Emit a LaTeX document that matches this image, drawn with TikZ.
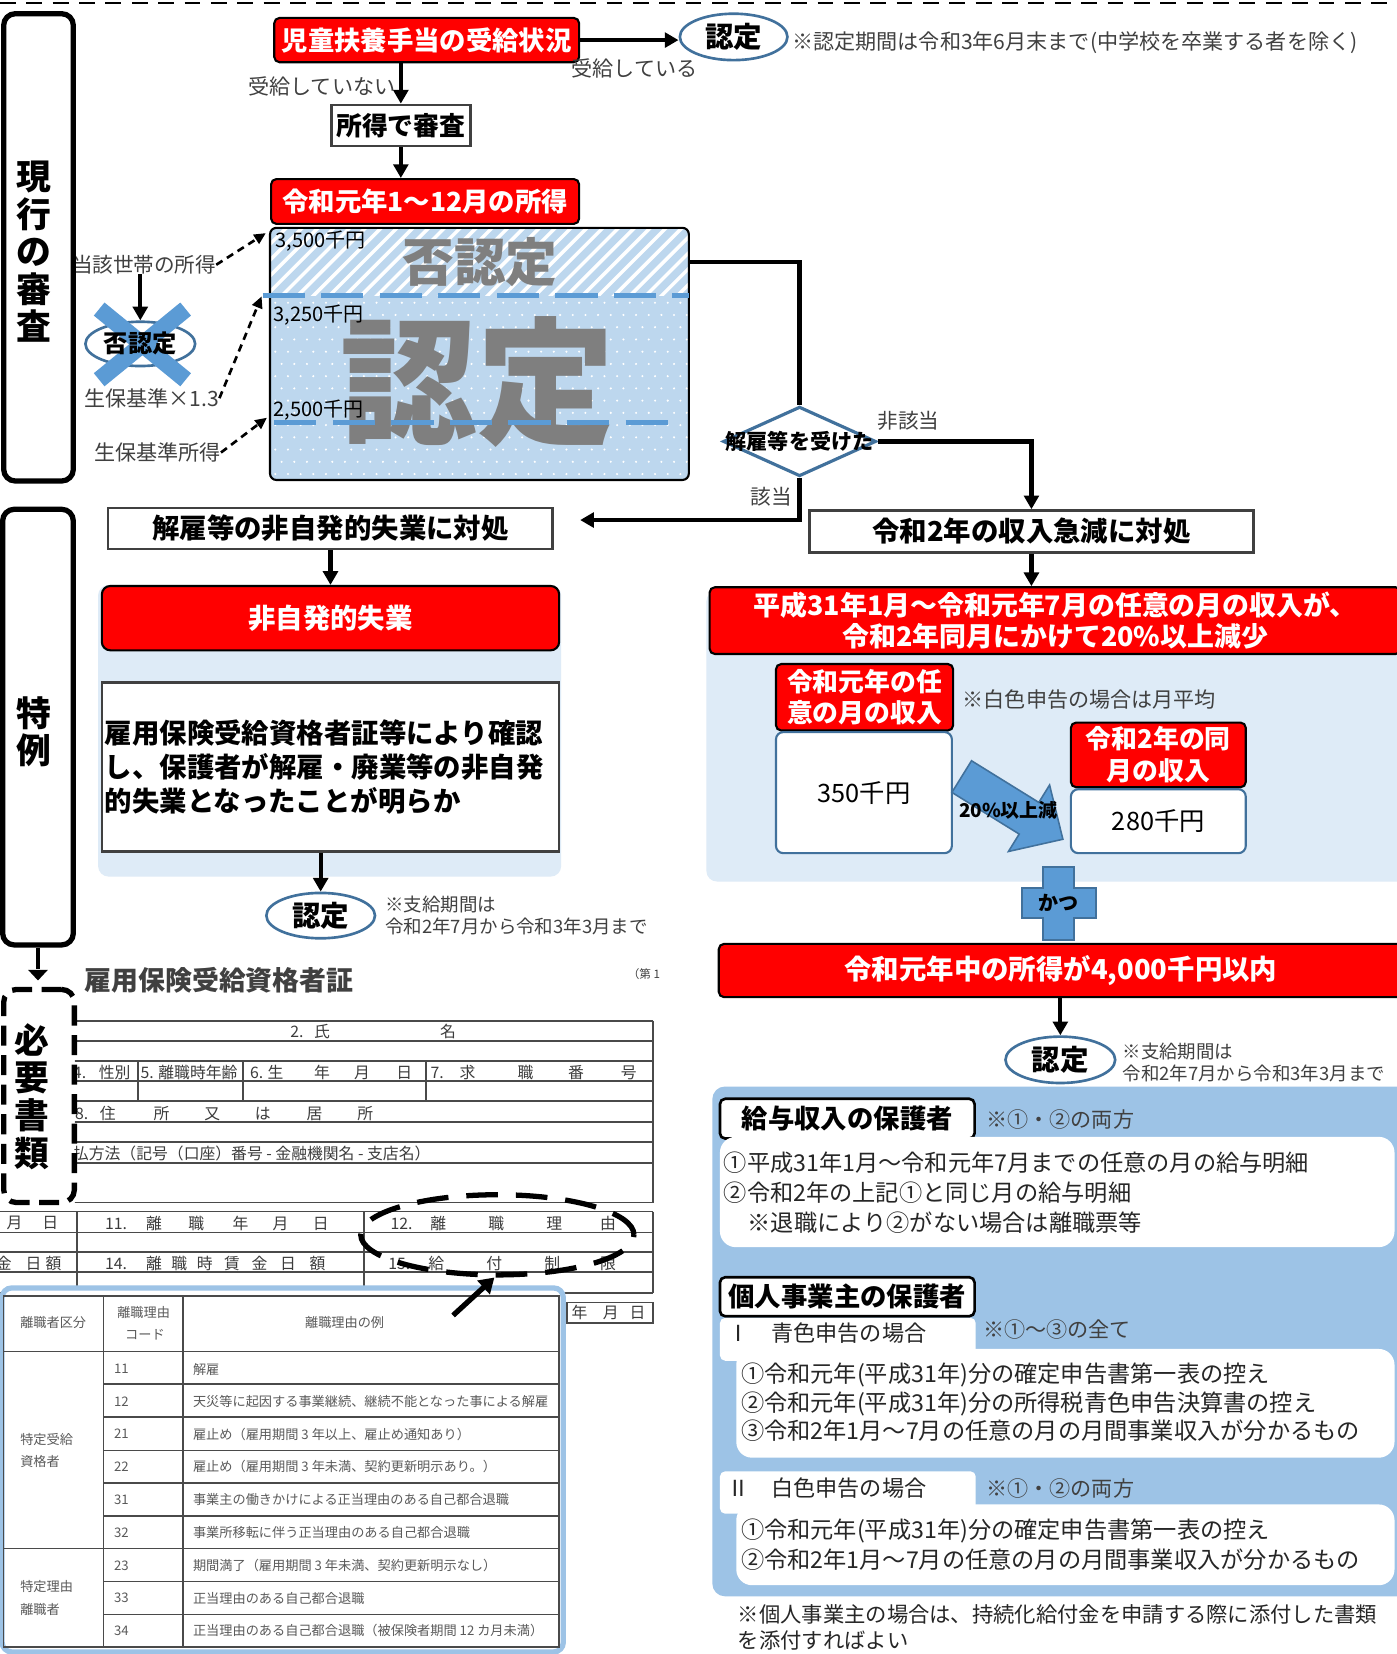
\documentclass[tikz,border=0pt]{standalone}
\usepackage{fontspec}
\setmainfont{Noto Sans CJK JP}
\usetikzlibrary{shapes.geometric,arrows.meta,calc}
\definecolor{cred}{HTML}{FF0000}
\definecolor{lblue}{HTML}{DEEBF7}
\definecolor{mblue}{HTML}{9DC3E6}
\definecolor{hblue}{HTML}{BDD7EE}
\definecolor{sblue}{HTML}{41719C}
\definecolor{ablue}{HTML}{5B9BD5}
\definecolor{dgray}{HTML}{404040}
\definecolor{tgray}{HTML}{7F7F7F}
\definecolor{ftgray}{HTML}{3C3C3C}
\definecolor{flgray}{HTML}{4A4A4A}
\definecolor{tabgray}{HTML}{5A5A5A}
\definecolor{txtc}{HTML}{262626}
\newcommand\fs[2]{\fontsize{#1pt}{#2pt}\selectfont}
\begin{document}
\begin{tikzpicture}[x=1pt,y=-1pt,
 redbox/.style={draw=black, line width=2pt, fill=cred, rounded corners=5pt, text=white, inner sep=0pt, align=center},
 graybox/.style={draw=dgray, line width=2.5pt, fill=white, inner sep=0pt, align=center},
 sidebox/.style={draw=black, line width=5pt, fill=white, rounded corners=11pt, inner sep=0pt},
 nintei/.style={ellipse, draw=sblue, line width=2.5pt, fill=white, inner sep=0pt, font=\bfseries\fs{27}{27}},
 lbl/.style={text=dgray, inner sep=0pt, font=\fs{20}{20}},
 arr/.style={line width=4pt, -{Triangle[length=13pt,width=14pt]}},
 conn/.style={line width=4pt},
 darr/.style={line width=2.5pt, dash pattern=on 7pt off 5pt, -{Triangle[length=11pt,width=10pt]}},
 wbox/.style={fill=white, rounded corners=15pt, inner sep=0pt},
 blackbox/.style={draw=black, line width=2.5pt, fill=white, rounded corners=5pt, inner sep=0pt, font=\bfseries\fs{25}{25}},
 body/.style={text=txtc, inner sep=0pt, anchor=west, align=left},
 formtxt/.style={text=ftgray, inner sep=0pt, anchor=west, font=\fs{15}{15}},
 formline/.style={draw=flgray, line width=1.8pt},
 tabtxt/.style={text=tabgray, inner sep=0pt, anchor=west, font=\fs{12.5}{12.5}},
 tabline/.style={draw=flgray, line width=1.3pt}
]
\useasboundingbox (0,0) rectangle (1324,1568);
\fill[white] (0,0) rectangle (1324,1568);
% top dashed rule
\draw[line width=2.5pt, dash pattern=on 15pt off 10pt] (0,3) -- (1324,3);

% ---------- current review ----------
\node[redbox, font=\bfseries\fs{25}{25}, minimum width=289pt, minimum height=42pt] (jido) at (404.5,38) {児童扶養手当の受給状況};
\node[nintei, minimum width=102pt, minimum height=44pt] (n1) at (695.5,35) {認定};
\draw[arr] (jido.east) -- (jido.east -| n1.west);
\node[lbl, anchor=west] (jukyu) at (541.7,64.7) {受給している};
\node[graybox, font=\bfseries\fs{24.5}{24.5}, minimum width=132pt, minimum height=39pt] (shotoku) at (380,119) {所得で審査};
\draw[arr] (jido.south -| shotoku.north) -- (shotoku.north);
\node[lbl, anchor=east] (nojukyu) at (375,82) {受給していない};
\node[redbox, font=\bfseries\fs{25}{25}, minimum width=292pt, minimum height=42.5pt] (r1) at (403,191) {令和元年1～12月の所得};
\draw[arr] (shotoku.south) -- (shotoku.south |- r1.north);
\node[lbl, anchor=west, anchor=west] (ninteikikan) at (751,40.4) {※認定期間は令和3年6月末まで(中学校を卒業する者を除く)};

% income chart box
\begin{scope}
\clip[rounded corners=6pt] (256,216) rectangle (653,455);
\fill[white] (256,216) rectangle (653,281);
\begin{scope}
\clip (256,216) rectangle (653,281);
\foreach \i in {0,...,33} {\draw[hblue, line width=7pt] ({180+\i*15},285) -- ({253+\i*15},212);}
\end{scope}
\fill[hblue] (256,281) rectangle (653,455);
\foreach \r in {0,...,14} {\foreach \c in {0,...,33} {\fill[white] ({261+\c*12+mod(\r,2)*6},{287+\r*11.6}) circle[radius=1.1pt];}}
\end{scope}
\node[draw=black, line width=2pt, rounded corners=6pt, minimum width=397pt, minimum height=239pt, inner sep=0pt] (bigbox) at (454.5,335.5) {};
\node[text=tgray, font=\bfseries\fs{49}{49}, inner sep=0pt] (hinintei) at (455,248) {否認定};
\node[text=tgray, font=\bfseries\fs{130}{130}, inner sep=0pt] (nintei) at (453,362) {認定};
\draw[ablue, line width=5pt, dash pattern=on 40pt off 15.5pt] (249,280.3) -- (653,280.3);
\draw[ablue, line width=5pt, dash pattern=on 40pt off 15.5pt] (260,400.6) -- (636,400.6);
\node[anchor=west, inner sep=0pt, font=\fs{19}{19}] (v3500) at (261,229) {3,500千円};
\node[anchor=west, inner sep=0pt, font=\fs{19}{19}] (v3250) at (259,298.6) {3,250千円};
\node[anchor=west, inner sep=0pt, font=\fs{19}{19}] (v2500) at (259,388.6) {2,500千円};

% left labels
\node[lbl, anchor=east, font=\fs{19.5}{19.5}] (tougai) at (205,251) {当該世帯の所得};
\coordinate (p3500) at (252,221);
\coordinate (p3250) at (248,281);
\coordinate (p2500) at (253,396);
\draw[darr] (tougai.east) -- (p3500);
\node[nintei, font=\bfseries\fs{23}{23}, minimum width=104pt, minimum height=42pt] (hinin) at (133,326) {};
\draw[arr] (tougai.south -| hinin.north) -- (hinin.north);
\draw[ablue, line width=16pt] (94,293) -- (176,360) (176,293) -- (94,360);
\node[font=\bfseries\fs{23}{23}, inner sep=0pt] (hinintxt) at (133,326) {否認定};
\node[lbl, anchor=east] (x13) at (208,377.5) {生保基準×1.3};
\draw[darr] (x13.east) -- (p3250);
\node[lbl, anchor=east] (seiho) at (209.5,429) {生保基準所得};
\draw[darr] (seiho.east) -- (p2500);

\node[sidebox, minimum width=66pt, minimum height=443pt] (genkou) at (36.5,234.5) {};
\node[font=\bfseries\fs{33}{35.5}, align=center, inner sep=0pt] (genkoutxt) at (32,238.6) {現\\行\\の\\審\\査};

% decision diamond
\node[diamond, draw=sblue, line width=3pt, fill=white, minimum width=145pt, minimum height=66pt, inner sep=0pt] (dia) at (758,418.5) {};
\node[font=\bfseries\fs{20}{20}, inner sep=0pt] (diatxt) at (758,418.5) {解雇等を受けた};
\draw[conn] ([yshift=87pt]bigbox.east) -| (dia.north);
\node[lbl, anchor=west, font=\fs{19.5}{19.5}] (higaitou) at (832,398.7) {非該当};
\node[lbl, font=\fs{19.5}{19.5}] (gaitou) at (731,470.8) {該当};

% ---------- special case ----------
\node[sidebox, minimum width=67pt, minimum height=413pt] (tokurei) at (36,689.3) {};
\node[font=\bfseries\fs{33}{35}, align=center, inner sep=0pt] (tokureitxt) at (32,693.5) {特\\例};

\node[graybox, font=\bfseries\fs{26}{26}, minimum width=421.5pt, minimum height=39pt] (taisho1) at (313.3,501) {解雇等の非自発的失業に対処};
\coordinate (kaikoend) at (550,493);
\draw[arr] (dia.south) |- (kaikoend);

\fill[lblue, rounded corners=10pt] (93,554.5) rectangle (532,831);
\node[redbox, rounded corners=8pt, font=\bfseries\fs{26}{26}, minimum width=433.5pt, minimum height=61pt] (hij) at (313.3,586) {非自発的失業};
\draw[arr] (taisho1.south) -- (taisho1.south |- hij.north);
\node[graybox, font=\bfseries\fs{26}{32.5}, minimum width=433.5pt, minimum height=160.5pt, text width=428pt, align=left] (koyou) at (313.3,727) {雇用保険受給資格者証等により確認\\し、保護者が解雇・廃業等の非自発\\的失業となったことが明らか};
\node[nintei, minimum width=103pt, minimum height=43pt] (n2) at (304,868) {認定};
\draw[arr] (koyou.south -| n2.north) -- (n2.north);
\node[body, text=dgray, font=\fs{17.5}{20.6}] (shikyu1) at (365,868.1) {※支給期間は\\令和2年7月から令和3年3月まで};

% ---------- income drop ----------
\node[graybox, font=\bfseries\fs{26}{26}, minimum width=421.3pt, minimum height=39.6pt] (taisho2) at (977.8,503.8) {令和2年の収入急減に対処};
\draw[arr] (dia.east) -| (taisho2.north);
\fill[lblue, rounded corners=10pt] (669.7,560) rectangle (1345,835.7);
\node[redbox, font=\bfseries\fs{25.5}{30}, minimum width=655.3pt, minimum height=63.3pt] (bigred) at (1000.35,588.35) {平成31年1月～令和元年7月の任意の月の収入が、\\令和2年同月にかけて20\%以上減少};
\draw[arr] (taisho2.south) -- (taisho2.south |- bigred.north);
\node[redbox, font=\bfseries\fs{24.5}{30}, minimum width=168pt, minimum height=63pt] (rr1) at (819.6,661) {令和元年の任\\意の月の収入};
\node[draw=sblue, line width=2pt, fill=white, rounded corners=7pt, minimum width=166.8pt, minimum height=114.8pt, inner sep=0pt, font=\fs{24}{24}] (w1) at (819,751.4) {350千円};
\node[lbl, anchor=west, font=\fs{20}{20}] (hakushoku) at (912.5,663.5) {※白色申告の場合は月平均};
\node[redbox, font=\bfseries\fs{24.5}{30}, minimum width=165.8pt, minimum height=61.3pt] (rr2) at (1098.1,715.65) {令和2年の同\\月の収入};
\node[draw=sblue, line width=2pt, fill=white, rounded corners=7pt, minimum width=165.8pt, minimum height=60.6pt, inner sep=0pt, font=\fs{24}{24}] (w2) at (1098.1,778.5) {280千円};
\filldraw[fill=ablue, draw=sblue, line width=1.5pt] (921.0,721.2) -- (984.8,760.7) -- (995.0,744.2) -- (1007.6,795.6) -- (956.0,807.2) -- (966.2,790.7) -- (902.4,751.2) -- cycle;
\node[font=\bfseries\fs{18}{18}, inner sep=0pt] (gen20) at (956,767.8) {20\%以上減};

% plus
\filldraw[fill=ablue, draw=sblue, line width=2pt] (989,821.5) -- (1018,821.5) -- (1018,842) -- (1038.9,842) -- (1038.9,870.4) -- (1018,870.4) -- (1018,891) -- (989,891) -- (989,870.4) -- (968.7,870.4) -- (968.7,842) -- (989,842) -- cycle;
\node[font=\bfseries\fs{19}{19}, inner sep=0pt] (katsu) at (1003.5,856) {かつ};

\node[redbox, font=\bfseries\fs{26}{26}, minimum width=648.6pt, minimum height=50.5pt] (r4000) at (1005.7,920.05) {令和元年中の所得が4,000千円以内};
\node[nintei, minimum width=104pt, minimum height=44pt] (n3) at (1005.2,1004.7) {認定};
\draw[arr] (r4000.south -| n3.north) -- (n3.north);
\node[body, text=dgray, font=\fs{17.5}{20.5}] (shikyu2) at (1064,1007.2) {※支給期間は\\令和2年7月から令和3年3月まで};

% ---------- documents (right) ----------
\fill[mblue, rounded corners=12pt] (675.3,1030) rectangle (1345,1513.3);
\node[blackbox, minimum width=241.4pt, minimum height=37.7pt] (kyuyo) at (803.2,1060.5) {給与収入の保護者};
\node[lbl, anchor=west] (ryo1) at (935,1061.4) {※①・②の両方};
\node[wbox, minimum width=639.5pt, minimum height=104.6pt] (wb1) at (1002.25,1130) {};
\node[body, font=\fs{22}{28.5}] (wb1t) at (686,1130.3) {①平成31年1月～令和元年7月までの任意の月の給与明細\\②令和2年の上記①と同じ月の給与明細\\\hspace*{22.7pt}※退職により②がない場合は離職票等};

\node[blackbox, minimum width=241.4pt, minimum height=37pt] (kojin) at (803.2,1229.3) {個人事業主の保護者};
\fill[white, rounded corners=5pt] (682.5,1249.3) rectangle (925,1290);
\node[body, font=\fs{21}{21}] (ao) at (689,1264.2) {Ⅰ　青色申告の場合};
\node[lbl, anchor=west] (zen) at (932,1260.7) {※①～③の全て};
\node[wbox, minimum width=624pt, minimum height=103.1pt] (wb2) at (1010,1330.35) {};
\node[body, font=\fs{22}{27}] (wb2t) at (702.3,1329.6) {①令和元年(平成31年)分の確定申告書第一表の控え\\②令和元年(平成31年)分の所得税青色申告決算書の控え\\③令和2年1月～7月の任意の月の月間事業収入が分かるもの};

\fill[white, rounded corners=5pt] (682.5,1394.8) rectangle (925,1435);
\node[body, font=\fs{21}{21}] (shiro) at (689,1411.2) {Ⅱ　白色申告の場合};
\node[lbl, anchor=west] (ryo2) at (935,1411.2) {※①・②の両方};
\node[wbox, minimum width=624pt, minimum height=76.6pt] (wb3) at (1010,1464.5) {};
\node[body, font=\fs{22}{28}] (wb3t) at (702.3,1464.5) {①令和元年(平成31年)分の確定申告書第一表の控え\\②令和2年1月～7月の任意の月の月間事業収入が分かるもの};
\node[body, font=\fs{20.2}{24.4}] (foot) at (699.3,1543) {※個人事業主の場合は、持続化給付金を申請する際に添付した書類\\を添付すればよい};

% ---------- documents (left): certificate ----------
\node[anchor=west, inner sep=0pt, text=dgray, font=\bfseries\fs{25.5}{25.5}] (certtitle) at (80,929) {雇用保険受給資格者証};
\node[anchor=west, inner sep=0pt, text=dgray, font=\fs{11}{11}] (dai1) at (595,923) {（第 1};
\begin{scope}
\clip (71,940) rectangle (625,1145);
\foreach \yy in {967.5,986.5,1006,1025,1044,1063.5,1083,1102.5,1140} {\draw[formline] (60,\yy) -- (618.7,\yy);}
\draw[formline] (618.7,967.5) -- (618.7,1140);
\foreach \xx in {131.2,230.6,404} {\draw[formline] (\xx,1006) -- (\xx,1044);}
\node[formtxt] (f2) at (275,977.9) {2.\hspace{10pt}氏};
\node[formtxt] (f2b) at (417,977.9) {名};
\node[formtxt] (f4) at (69,1016.4) {4.\hspace{12pt}性別};
\node[formtxt] (f5) at (133,1016.4) {5. 離職時年齢};
\node[formtxt] (f6) at (237,1016.4) {6.\hspace{4pt}生\hspace{29pt}年\hspace{23pt}月\hspace{25pt}日};
\node[formtxt] (f7) at (408,1016.4) {7.\hspace{15pt}求\hspace{40pt}職\hspace{33pt}番\hspace{35pt}号};
\node[formtxt] (f8) at (71,1055.3) {8.\hspace{11pt}住\hspace{36pt}所\hspace{33pt}又\hspace{33pt}は\hspace{34pt}居\hspace{33pt}所};
\node[formtxt] (f9) at (54,1093.2) {支払方法（記号（口座）番号 - 金融機関名 - 支店名）};
\end{scope}
\foreach \yy in {1148.5,1168.4,1186.5,1205.5,1226} {\draw[formline] (0,\yy) -- (618.7,\yy);}
\foreach \xx in {72.8,345,618.7} {\draw[formline] (\xx,1148.5) -- (\xx,1226);}
\node[formtxt] (f10) at (6,1159.5) {月\hspace{19pt}日};
\node[formtxt] (f11) at (99.5,1159.5) {11.\hspace{18pt}離\hspace{25pt}職\hspace{27pt}年\hspace{23pt}月\hspace{23pt}日};
\node[formtxt] (f12) at (370,1159.5) {12.\hspace{17pt}離\hspace{40pt}職\hspace{40pt}理\hspace{36pt}由};
\node[formtxt] (f13) at (-4,1197.5) {金\hspace{13pt}日\hspace{4pt}額};
\node[formtxt] (f14) at (99.5,1197.5) {14.\hspace{18pt}離\hspace{9pt}職\hspace{9pt}時\hspace{11pt}賃\hspace{11pt}金\hspace{12pt}日\hspace{13pt}額};
\node[formtxt] (f15) at (368,1197.5) {15.\hspace{17pt}給\hspace{40pt}付\hspace{40pt}制\hspace{38pt}限};
\draw[formline] (537.5,1234.8) rectangle (618.7,1254.3);
\node[formtxt] (fymd) at (541.7,1244.5) {年\hspace{14.6pt}月\hspace{10.4pt}日};
\node[ellipse, draw=black, line width=5pt, dash pattern=on 30pt off 17pt, minimum width=259pt, minimum height=76pt, inner sep=0pt] (focus) at (471.5,1170.6) {};

% reason table
\node[draw=mblue, line width=5pt, fill=white, rounded corners=9pt, minimum width=532pt, minimum height=345pt, inner sep=0pt] (rtab) at (268,1393.5) {};
\draw[tabline] (3.4,1228.5) rectangle (530,1561.4);
\draw[tabline] (3.4,1281) -- (530,1281) (3.4,1468) -- (530,1468);
\foreach \yy in {1312,1343.4,1375,1405.8,1437,1499,1530.5} {\draw[tabline] (98,\yy) -- (530,\yy);}
\draw[tabline] (98,1228.5) -- (98,1561.4) (173.5,1228.5) -- (173.5,1561.4);
\node[tabtxt] (h1) at (19,1254) {離職者区分};
\node[tabtxt] (h2) at (111,1244.7) {離職理由};
\node[tabtxt] (h3) at (118.5,1265.4) {コード};
\node[tabtxt] (h4) at (289,1254) {離職理由の例};
\node[tabtxt] (g1) at (19,1364.3) {特定受給};
\node[tabtxt] (g2) at (19,1385.5) {資格者};
\node[tabtxt] (g3) at (19,1504) {特定理由};
\node[tabtxt] (g4) at (19,1526) {離職者};
\node[tabtxt] (c11) at (108,1298) {11};
\node[tabtxt] (c12) at (108,1328.6) {12};
\node[tabtxt] (c21) at (108,1359.6) {21};
\node[tabtxt] (c22) at (108,1390.2) {22};
\node[tabtxt] (c31) at (108,1421.8) {31};
\node[tabtxt] (c32) at (108,1452.8) {32};
\node[tabtxt] (c23) at (108,1484) {23};
\node[tabtxt] (c33) at (108,1515) {33};
\node[tabtxt] (c34) at (108,1546) {34};
\node[tabtxt] (e11) at (182.8,1298) {解雇};
\node[tabtxt] (e12) at (182.8,1328.6) {天災等に起因する事業継続、継続不能となった事による解雇};
\node[tabtxt] (e21) at (182.8,1359.6) {雇止め（雇用期間 3 年以上、雇止め通知あり）};
\node[tabtxt] (e22) at (182.8,1390.2) {雇止め（雇用期間 3 年未満、契約更新明示あり。）};
\node[tabtxt] (e31) at (182.8,1421.8) {事業主の働きかけによる正当理由のある自己都合退職};
\node[tabtxt] (e32) at (182.8,1452.8) {事業所移転に伴う正当理由のある自己都合退職};
\node[tabtxt] (e23) at (182.8,1484) {期間満了（雇用期間 3 年未満、契約更新明示なし）};
\node[tabtxt] (e33) at (182.8,1515) {正当理由のある自己都合退職};
\node[tabtxt] (e34) at (182.8,1546) {正当理由のある自己都合退職（被保険者期間 12 カ月未満）};
\coordinate (ftail) at (429.5,1247);
\draw[line width=5pt, -{Triangle[length=14pt,width=17pt]}] (ftail) -- (focus.-94);

% required documents box
\node[draw=black, line width=5pt, dash pattern=on 19pt off 9pt, rounded corners=12pt, fill=white, minimum width=67pt, minimum height=202pt, inner sep=0pt] (hitsuyou) at (37,1039) {};
\node[font=\bfseries\fs{33}{35.8}, align=center, inner sep=0pt] (hitsuyoutxt) at (30,1039.5) {必\\要\\書\\類};
\draw[line width=4pt, dash pattern=on 20pt off 9pt, -{Triangle[length=10pt,width=18pt]}, shorten >=6pt] (tokurei.south) -- (tokurei.south |- hitsuyou.north);
\end{tikzpicture}
\end{document}
